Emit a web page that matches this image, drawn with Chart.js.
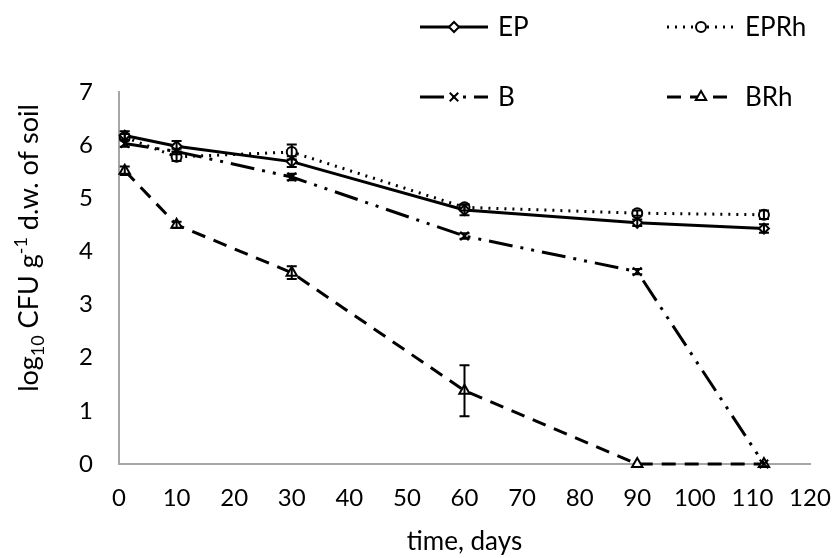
<!DOCTYPE html>
<html>
<head>
<meta charset="utf-8">
<script src="https://cdn.jsdelivr.net/npm/chart.js@4.4.0/dist/chart.umd.min.js"></script>
<style>
  html, body { margin: 0; padding: 0; background: #fff; }
  canvas { display: block; }
</style>
</head>
<body>
<canvas id="chart" width="832" height="558"></canvas>
<script>
// sampling days and log10 CFU values
const days = [1, 10, 30, 60, 90, 112];
const epValues = [6.18, 5.98, 5.69, 4.78, 4.54, 4.43];
const eprhValues = [6.15, 5.78, 5.87, 4.83, 4.72, 4.69];
const bValues = [6.03, 5.88, 5.40, 4.29, 3.62, 0];
const brhValues = [5.52, 4.50, 3.60, 1.38, 0, 0];

// standard deviations (error bars)
const epErr = [0.08, 0.10, 0.10, 0.10, 0.06, 0.08];
const eprhErr = [0.06, 0.08, 0.14, 0.06, 0.05, 0.08];
const bErr = [0.06, 0.05, 0.06, 0.05, 0.05, 0];
const brhErr = [0.08, 0.06, 0.12, 0.48, 0, 0];

const xTicks = [0, 10, 20, 30, 40, 50, 60, 70, 80, 90, 100, 110, 120];
const yTicks = [0, 1, 2, 3, 4, 5, 6, 7];

const FONT = "Lato, 'Open Sans', sans-serif";

const toXY = (vals) => vals.map((v, i) => ({ x: days[i], y: v }));

const errorBars = {
  id: "errorBars",
  afterDatasetsDraw(chart) {
    const ctx = chart.ctx;
    const ys = chart.scales.y;
    ctx.save();
    ctx.strokeStyle = "#000";
    ctx.lineWidth = 2;
    chart.data.datasets.forEach((ds, di) => {
      const meta = chart.getDatasetMeta(di);
      meta.data.forEach((pt, i) => {
        const e = ds.errors[i];
        if (!e) return;
        const v = ds.data[i].y;
        const top = ys.getPixelForValue(v + e);
        const bot = ys.getPixelForValue(v - e);
        ctx.beginPath();
        ctx.moveTo(pt.x, top);
        ctx.lineTo(pt.x, bot);
        ctx.moveTo(pt.x - 5, top);
        ctx.lineTo(pt.x + 5, top);
        ctx.moveTo(pt.x - 5, bot);
        ctx.lineTo(pt.x + 5, bot);
        ctx.stroke();
      });
    });
    ctx.restore();
  },
};

const legendGrid = {
  id: "legendGrid",
  afterDraw(chart) {
    const ctx = chart.ctx;
    const spots = [
      [420, 27],
      [667, 27],
      [420, 97],
      [667, 97],
    ];
    ctx.save();
    chart.data.datasets.forEach((ds, i) => {
      const [x, y] = spots[i];
      ctx.strokeStyle = "#000";
      ctx.lineWidth = ds.borderWidth;
      ctx.setLineDash(ds.borderDash || []);
      ctx.beginPath();
      ctx.moveTo(x, y);
      ctx.lineTo(x + 68, y);
      ctx.stroke();
      ctx.setLineDash([]);
      ctx.fillStyle = "#fff";
      ctx.lineWidth = 2;
      Chart.helpers.drawPoint(ctx, {
        pointStyle: ds.pointStyle,
        radius: ds.pointRadius,
        borderWidth: 2,
      }, x + 34, y);
      ctx.fillStyle = "#000";
      ctx.font = "26px " + FONT;
      ctx.textBaseline = "middle";
      ctx.fillText(ds.label, x + 78, y + 1);
    });
    ctx.restore();
  },
};

const axisTitles = {
  id: "axisTitles",
  afterDraw(chart) {
    const ctx = chart.ctx;
    const area = chart.chartArea;
    ctx.save();
    ctx.fillStyle = "#000";
    ctx.textBaseline = "alphabetic";
    // x title
    ctx.font = "26px " + FONT;
    ctx.textAlign = "center";
    ctx.fillText("time, days", (area.left + area.right) / 2, 550);
    // y title with sub/superscript
    const parts = [
      { t: "log", size: 27, dy: 0 },
      { t: "10", size: 18, dy: 6 },
      { t: " CFU g", size: 27, dy: 0 },
      { t: "-1", size: 18, dy: -11 },
      { t: " d.w. of soil", size: 27, dy: 0 },
    ];
    let total = 0;
    parts.forEach((p) => {
      ctx.font = p.size + "px " + FONT;
      p.w = ctx.measureText(p.t).width;
      total += p.w;
    });
    ctx.translate(38, 248);
    ctx.rotate(-Math.PI / 2);
    ctx.textAlign = "left";
    let cx = -total / 2;
    parts.forEach((p) => {
      ctx.font = p.size + "px " + FONT;
      ctx.fillText(p.t, cx, p.dy);
      cx += p.w;
    });
    ctx.restore();
  },
};

const commonSet = {
  borderColor: "#000",
  backgroundColor: "#fff",
  pointBorderColor: "#000",
  pointBackgroundColor: "#fff",
  pointBorderWidth: 2,
  borderWidth: 3,
  tension: 0,
  clip: false,
};

new Chart(document.getElementById("chart"), {
  type: "line",
  data: {
    datasets: [
      { ...commonSet, label: "EP", data: toXY(epValues), errors: epErr,
        pointStyle: "rectRot", pointRadius: 5 },
      { ...commonSet, label: "EPRh", data: toXY(eprhValues), errors: eprhErr,
        pointStyle: "circle", pointRadius: 5, borderDash: [2, 6] },
      { ...commonSet, label: "B", data: toXY(bValues), errors: bErr,
        pointStyle: "crossRot", pointRadius: 6, borderDash: [24, 8, 3, 8, 3, 8] },
      { ...commonSet, label: "BRh", data: toXY(brhValues), errors: brhErr,
        pointStyle: "triangle", pointRadius: 6, borderDash: [14, 9] },
    ],
  },
  options: {
    responsive: false,
    animation: false,
    layout: { padding: { top: 92, right: 0, left: 0, bottom: 0 } },
    plugins: {
      legend: { display: false },
      tooltip: { enabled: false },
    },
    scales: {
      x: {
        type: "linear",
        min: 0,
        max: 120,
        afterBuildTicks: (s) => { s.ticks = xTicks.map((v) => ({ value: v })); },
        afterFit: (s) => { s.height = 94; s.paddingRight = 22; s.paddingLeft = 0; },
        grid: { display: false, drawTicks: false },
        border: { color: "#a6a6a6", width: 2 },
        ticks: { color: "#000", padding: 20, maxRotation: 0, font: { family: FONT, size: 24 } },
      },
      y: {
        min: 0,
        max: 7,
        afterBuildTicks: (s) => { s.ticks = yTicks.map((v) => ({ value: v })); },
        afterFit: (s) => { s.width = 119; s.paddingTop = 0; s.paddingBottom = 0; },
        grid: { display: false, drawTicks: false },
        border: { color: "#a6a6a6", width: 2 },
        ticks: { color: "#000", padding: 26, font: { family: FONT, size: 24 } },
      },
    },
  },
  plugins: [errorBars, legendGrid, axisTitles],
});
</script>
</body>
</html>
